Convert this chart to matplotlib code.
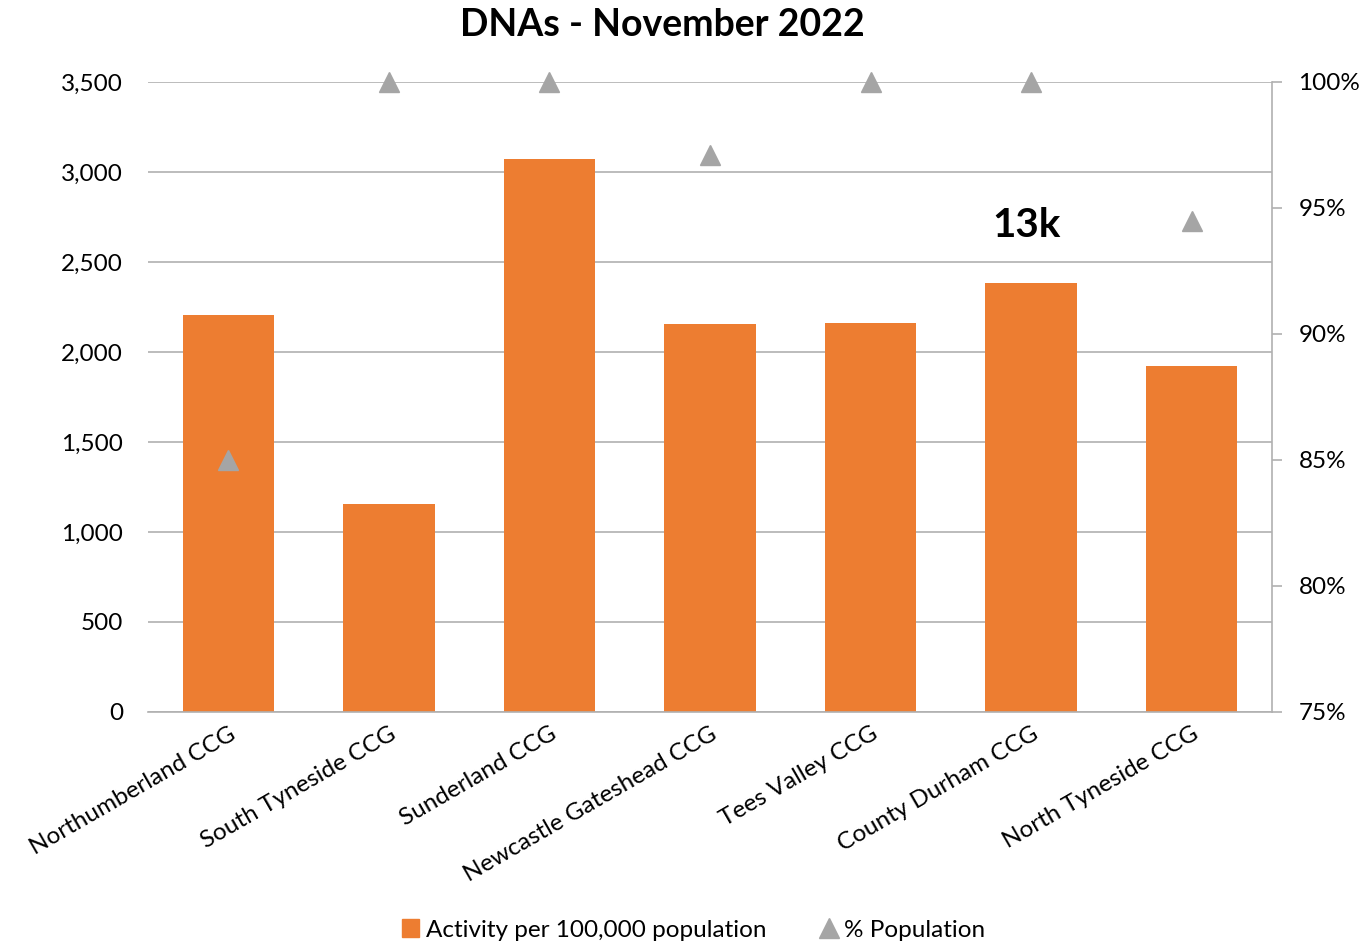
import matplotlib
matplotlib.use('Agg')
import matplotlib.pyplot as plt
from matplotlib.ticker import FuncFormatter, MultipleLocator
from matplotlib.lines import Line2D
from matplotlib.patches import Patch

plt.rcParams['font.family'] = ['Lato', 'DejaVu Sans']

ccgs = ['Northumberland CCG', 'South Tyneside CCG', 'Sunderland CCG',
        'Newcastle Gateshead CCG', 'Tees Valley CCG', 'County Durham CCG',
        'North Tyneside CCG']
activity = [2205, 1156, 3072, 2156, 2161, 2383, 1922]
pct_pop = [85.0, 100.0, 100.0, 97.1, 100.0, 100.0, 94.5]
note_idx = 5
note_text = '13k'

orange = '#ed7d31'
grey = '#a5a5a5'
gridc = '#b0b0b0'

fig = plt.figure(figsize=(13.6, 9.44), dpi=100)
ax = fig.add_axes([148/1360, 1 - 712/944, 1124/1360, 630/944])
x = list(range(len(ccgs)))
ax.bar(x, activity, width=0.57, color=orange, zorder=2)
ax.set_xlim(-0.5, len(ccgs) - 0.5)
ax.set_ylim(0, 3500)
ax.yaxis.set_major_locator(MultipleLocator(500))
ax.yaxis.set_major_formatter(FuncFormatter(lambda v, p: f'{v:,.0f}'))
ax.grid(axis='y', color=gridc, linewidth=1.2, zorder=0)
for s in ['top', 'left', 'right']:
    ax.spines[s].set_visible(False)
ax.spines['bottom'].set_color(gridc)
ax.spines['bottom'].set_linewidth(1.2)
ax.tick_params(axis='y', length=0, pad=18, labelsize=17.5)
ax.tick_params(axis='x', length=0, pad=8, labelsize=17.5)
ax.set_xticks(x)
ax.set_xticklabels(ccgs, rotation=30, ha='right', rotation_mode='anchor')

ax2 = ax.twinx()
ax2.plot(x, pct_pop, linestyle='none', marker='^', markersize=14,
         color=grey, zorder=3, clip_on=False)
ax2.set_ylim(75, 100)
ax2.yaxis.set_major_locator(MultipleLocator(5))
ax2.yaxis.set_major_formatter(FuncFormatter(lambda v, p: f'{v:.0f}%'))
for s in ['top', 'left', 'bottom']:
    ax2.spines[s].set_visible(False)
ax2.spines['right'].set_color(gridc)
ax2.spines['right'].set_linewidth(1.2)
ax2.tick_params(axis='y', length=7, color=gridc, width=1.2, pad=12, labelsize=17.5)

ax.text(note_idx - 0.03, 2705, note_text, ha='center', va='center',
        fontsize=29, fontweight='bold', zorder=4)

fig.text(0.487, 1 - 25/944, 'DNAs - November 2022', ha='center', va='center',
         fontsize=27, fontweight='bold')

handles = [Patch(color=orange, label='Activity per 100,000 population'),
           Line2D([], [], linestyle='none', marker='^', markersize=14,
                  color=grey, label='% Population')]
fig.legend(handles=handles, loc='center', bbox_to_anchor=(0.51, 1 - 930/944),
           ncol=2, frameon=False, fontsize=17.5, handlelength=0.7,
           handletextpad=0.3, columnspacing=2.2, handleheight=0.7,
           borderpad=0)

fig.savefig('out.png', dpi=100)
